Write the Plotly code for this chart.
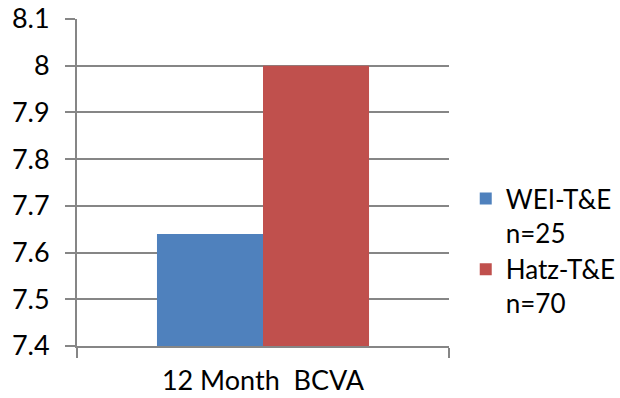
import plotly.graph_objects as go

categories = ["12 Month\u00a0\u00a0BCVA"]
series_names = ["WEI-T&E<br>n=25", "Hatz-T&E<br>n=70"]
series_values = [[7.64], [8.0]]
series_colors = ["#4F81BD", "#C0504D"]
y_ticks = [7.4, 7.5, 7.6, 7.7, 7.8, 7.9, 8.0, 8.1]
y_tick_labels = ["7.4", "7.5", "7.6", "7.7", "7.8", "7.9", "8", "8.1"]

grid = "#868686"
font = dict(family="Lato, 'Open Sans', sans-serif", size=27, color="#000000")

fig = go.Figure()
for name, vals, color in zip(series_names, series_values, series_colors):
    fig.add_trace(go.Bar(x=categories, y=vals, name=name,
                         marker=dict(color=color, line=dict(width=0))))

fig.update_layout(
    width=620, height=398,
    margin=dict(l=77, r=171, t=19, b=52, autoexpand=False),
    paper_bgcolor="white", plot_bgcolor="white",
    font=font,
    barmode="group", bargap=0.43, bargroupgap=0,
    showlegend=True,
    legend=dict(x=1.045, xanchor="left", y=0.29, yanchor="middle",
                valign="top", font=dict(font, size=26), itemwidth=30,
                tracegroupgap=0, bgcolor="rgba(0,0,0,0)"),
)
fig.update_yaxes(range=[7.4, 8.1], tickvals=y_ticks, ticktext=y_tick_labels,
                 showgrid=True, gridcolor=grid, gridwidth=2,
                 showline=True, linecolor=grid, linewidth=2,
                 ticks="outside", ticklen=10, tickcolor=grid, tickwidth=2,
                 ticklabelstandoff=10, zeroline=False, automargin=False)
fig.update_xaxes(showline=True, linecolor=grid, linewidth=2,
                 ticks="outside", ticklen=10, tickcolor=grid, tickwidth=2,
                 tickson="boundaries", showgrid=False, automargin=False,
                 ticklabelstandoff=10)

fig.write_html("out.html")
